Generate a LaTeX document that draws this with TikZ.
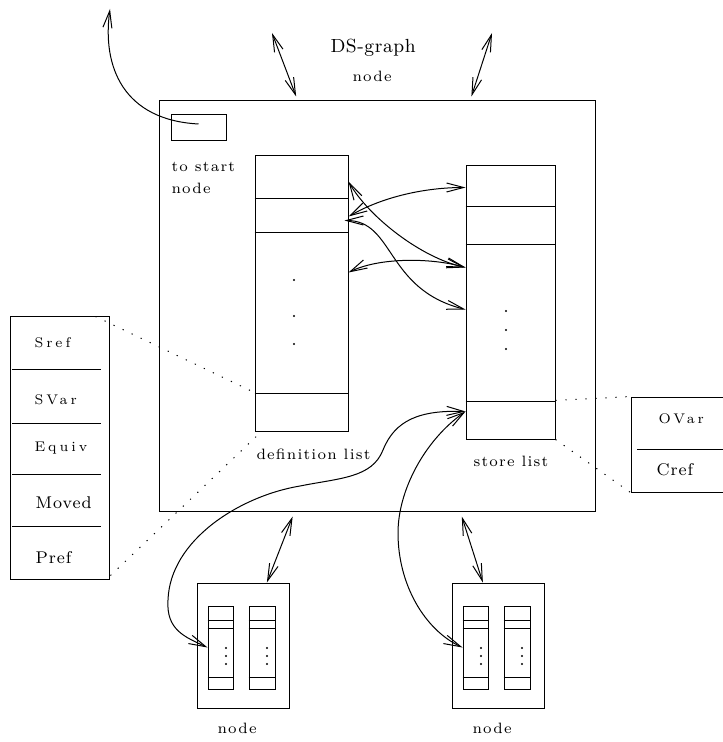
\documentclass[tikz,border=0pt]{standalone}
\usepackage{fontspec}
\setmainfont{Latin Modern Roman}
\usetikzlibrary{calc,fit,arrows.meta}

\begin{document}
\begin{tikzpicture}[x=0.5pt,y=-0.5pt,line width=0.5pt,
lab/.style={inner sep=0,anchor=base west,font={\fontsize{7.5}{9}\selectfont\addfontfeatures{LetterSpace=8}}},
fld/.style={lab,font={\fontsize{7}{9}\selectfont\addfontfeatures{LetterSpace=21}}},
big/.style={inner sep=0,anchor=base west,font={\fontsize{8.5}{10}\selectfont\addfontfeatures{LetterSpace=6}}},
box/.style={draw,inner sep=0,fit={#1}},
link/.style={{Straight Barb[length=8.5pt,width=4.5pt]}-{Straight Barb[length=8.5pt,width=4.5pt]}},
toend/.style={-{Straight Barb[length=8.5pt,width=4.5pt]}},
rel/.style={dash pattern=on 0.6pt off 4.4pt}]
	\useasboundingbox (0,0) rectangle (722,742);

	%DS-graph node
	\node[box={(159,101) (595,511)}] (ds) {};
	\node[big,font={\fontsize{9.5}{11}\selectfont\addfontfeatures{LetterSpace=3}}] at (330,53) (title) {DS-graph};
	\node[lab] at (352,82) (titlenode) {node};

	%start pointer
	\node[box={(171,115) (226,141)}] (startbox) {};
	\node[lab] at (171,172) (startlab) {to start};
	\node[lab] at (171,194) (startlab2) {node};
	\coordinate (start) at (110,9);
	\draw[toend] ([yshift=2pt]startbox.center) .. controls +(-75,-4) and +(-8,58) .. (start);

	%lists
	\node[box={(255,156) (348,431)}] (deflist) {};
	\node[box={(466,166) (555,439)}] (storelist) {};
	\foreach \y in {199,233,393} \draw (deflist.west |- 0,\y) -- (deflist.east |- 0,\y);
	\foreach \y in {207,245,401} \draw (storelist.west |- 0,\y) -- (storelist.east |- 0,\y);
	\foreach \y in {280,316,344} \fill (294,\y) circle (0.6pt);
	\foreach \y in {311,330,349} \fill (506,\y) circle (0.6pt);
	\node[lab] at (256,459) (deflab) {definition list};
	\node[lab] at (473,466) (storelab) {store list};

	%links between the lists
	\draw[link] ([yshift=-13pt]deflist.north east) .. controls +(20,35) and +(-45,-10) .. ([yshift=-51pt]storelist.north west);
	\draw[link] ([yshift=-30.5pt]deflist.north east) .. controls +(35,-20) and +(-40,0) .. ([yshift=-11pt]storelist.north west);
	\draw[link] ([xshift=-2pt,yshift=-32.5pt]deflist.north east) .. controls +(50,0) and +(-80,-20) .. ([yshift=-72pt]storelist.north west);
	\draw[link] ([yshift=-58.5pt]deflist.north east) .. controls +(30,-15) and +(-35,-10) .. ([yshift=-51pt]storelist.north west);

	%fields
	\node[box={(10,317) (109,579)}] (fields) {};
	\foreach \y in {369,423,474,526} \draw (12,\y) -- (101,\y);
	\node[fld] at (34,348) (sref) {Sref};
	\node[fld] at (34,404) (svar) {SVar};
	\node[fld] at (34,451) (equiv) {Equiv};
	\node[big] at (35,508) (moved) {Moved};
	\node[big] at (35,563) (pref) {Pref};

	\node[box={(631,397) (740,492)}] (refbox) {};
	\draw (637,449) -- (refbox.east |- 0,449);
	\node[fld] at (658,423) (ovar) {OVar};
	\node[big] at (656,475) (cref) {Cref};

	\draw[rel] ([xshift=-7pt]fields.north east) -- ([yshift=-118.5pt]deflist.north west);
	\draw[rel] ([xshift=0.5pt,yshift=2pt]fields.south east) -- ([xshift=3.5pt]deflist.south west);
	\draw[rel] ([yshift=-117.5pt]storelist.north east) -- (refbox.north west);
	\draw[rel] (storelist.south east) -- (refbox.south west);

	%neighbour nodes
	\foreach \n/\x in {lnode/197,rnode/452} {
		\node[box={(\x,583) (\x+92,708)}] (\n) {};
		\node[box={(\x+11,606) (\x+36,689)}] (\n1) {};
		\node[box={(\x+52,606) (\x+78,689)}] (\n2) {};
		\foreach \y in {620,628,677} {
			\draw (\n1.west |- 0,\y) -- (\n1.east |- 0,\y);
			\draw (\n2.west |- 0,\y) -- (\n2.east |- 0,\y);
		}
		\foreach \y in {648,656,664} {
			\fill (\x+29,\y) circle (0.6pt);
			\fill (\x+70,\y) circle (0.6pt);
		}
		\node[lab] at (\x+20,733) (\n-lab) {node};
	}

	\coordinate (up1) at (272,33);
	\coordinate (up2) at (492,33);
	\draw[link] (up1) -- ($(ds.north west)!0.315!(ds.north east)+(0,-4)$);
	\draw[link] (up2) -- ($(ds.north west)!0.716!(ds.north east)+(0,-4)$);
	\draw[link] ($(ds.south west)!0.307!(ds.south east)+(0,5)$) -- ($(lnode.north west)!0.757!(lnode.north east)$);
	\draw[link] ($(ds.south west)!0.694!(ds.south east)+(0,5)$) -- ($(rnode.north west)!0.337!(rnode.north east)$);

	%store list to the neighbours
	\draw[link] ([yshift=-123pt]storelist.north west) .. controls (420,410) and (395,420) .. (383,450)
		.. controls (372,478) and (340,478) .. (300,486)
		.. controls (240,496) and (170,540) .. (168,600)
		.. controls (166,630) and (185,637) .. (lnode1.west);
	\draw[link] ([yshift=-123pt]storelist.north west) .. controls (425,440) and (398,490) .. (398,533)
		.. controls (398,585) and (425,630) .. (rnode1.west);
\end{tikzpicture}
\end{document}
